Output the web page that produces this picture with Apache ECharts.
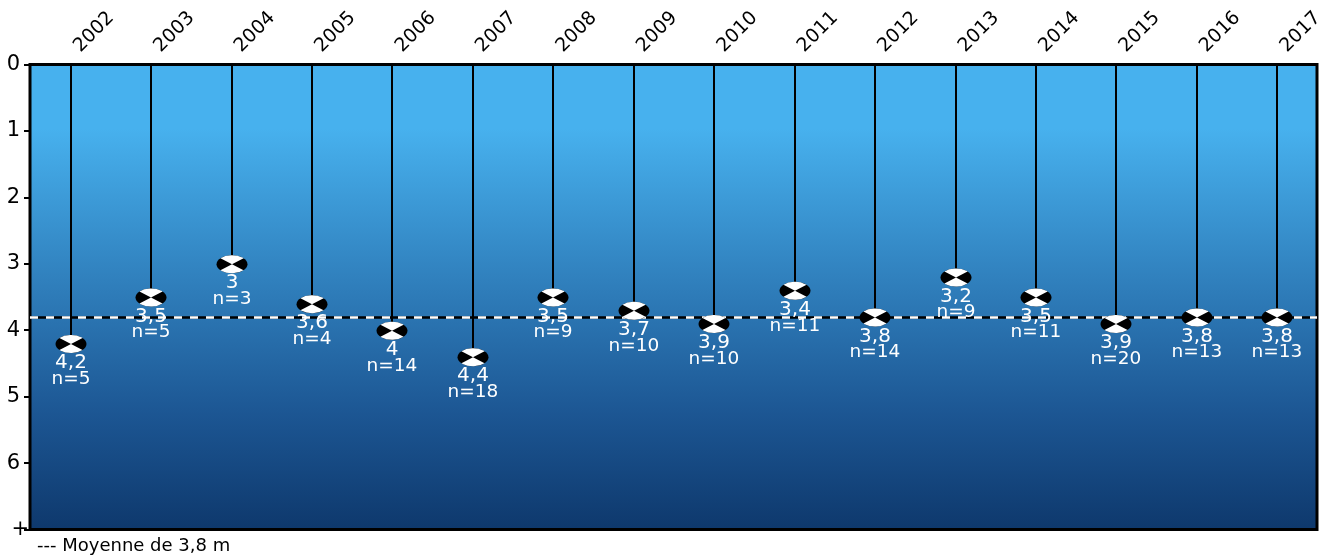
<!DOCTYPE html>
<html><head><meta charset="utf-8">
<style>html,body{margin:0;padding:0;background:#fff}#c{width:1327px;height:557px}</style>
<script src="https://cdn.jsdelivr.net/npm/echarts@6/dist/echarts.min.js"></script>
</head><body><div id="c"></div>
<script>
const years=['2002','2003','2004','2005','2006','2007','2008','2009','2010','2011','2012','2013','2014','2015','2016','2017'];
const depths=[4.2,3.5,3,3.6,4,4.4,3.5,3.7,3.9,3.4,3.8,3.2,3.5,3.9,3.8,3.8];
const counts=[5,5,3,4,14,18,9,10,10,11,14,9,11,20,13,13];
const meanDepth=3.8;
const FONT='"DejaVu Sans",Verdana,sans-serif';
const chart=echarts.init(document.getElementById('c'),null,{renderer:'canvas'});
function renderProbe(params,api){
  const x=api.value(0),v=api.value(1),n=api.value(2);
  const p=api.coord([x,v]),top=api.coord([x,0]);
  const rx=15.5,ry=9;
  const cx=Math.round(p[0]+0.5),cy=p[1]+0.5;
  const dx=rx*0.745,dy=ry*0.667;
  return {type:'group',children:[
    {type:'line',shape:{x1:cx,y1:top[1],x2:cx,y2:cy},style:{stroke:'#000',lineWidth:2}},
    {type:'ellipse',shape:{cx:cx,cy:cy,rx:rx,ry:ry},style:{fill:'#000'}},
    {type:'path',style:{fill:'#fff'},
     shape:{pathData:`M${cx} ${cy}L${cx-dx} ${cy-dy}A${rx} ${ry} 0 0 1 ${cx+dx} ${cy-dy}Z M${cx} ${cy}L${cx+dx} ${cy+dy}A${rx} ${ry} 0 0 1 ${cx-dx} ${cy+dy}Z`}},
    {type:'text',x:cx,y:cy+19,style:{text:String(v).replace('.',','),fill:'#fff',font:'20px '+FONT,align:'center',verticalAlign:'middle'}},
    {type:'text',x:cx,y:cy+35,style:{text:'n='+n,fill:'#fff',font:'18.5px '+FONT,align:'center',verticalAlign:'middle'}}
  ]};
}
chart.setOption({
  animation:false,
  grid:{left:30,right:10,top:64.5,bottom:27.5,outerBoundsMode:'none',show:true,borderColor:'#000',borderWidth:3,
    backgroundColor:new echarts.graphic.LinearGradient(0,0,0,1,[
      {offset:0,color:'#47b1ee'},{offset:0.14,color:'#47b1ee'},{offset:0.45,color:'#3182bf'},{offset:0.75,color:'#1c5693'},{offset:1,color:'#0e386c'}])},
  xAxis:{type:'category',position:'top',data:years,
    axisLine:{show:false},axisTick:{show:false},splitLine:{show:false},
    axisLabel:{rotate:45,align:'left',verticalAlign:'top',color:'#000',fontFamily:FONT,fontSize:19,margin:22,interval:0}},
  yAxis:{type:'value',inverse:true,min:0,max:7,interval:1,
    axisLine:{show:false},axisTick:{show:true,length:6,lineStyle:{color:'#000',width:2}},splitLine:{show:false},
    axisLabel:{color:'#000',fontFamily:FONT,fontSize:21,margin:1,
      formatter:v=>v===7?'+':'{d|'+v+'}',
      rich:{d:{fontFamily:FONT,fontSize:21,color:'#000',padding:[0,9,0,0]}}}},
  title:{text:'--- Moyenne de 3,8 m',left:37,top:537,padding:0,textStyle:{color:'#000',fontFamily:FONT,fontSize:18,fontWeight:'normal'}},
  series:[
    {type:'line',data:[],markLine:{silent:true,symbol:'none',label:{show:false},
      lineStyle:{color:'#000',width:2.5,type:'solid'},data:[{yAxis:meanDepth}],animation:false},z:2},
    {type:'line',data:[],markLine:{silent:true,symbol:'none',label:{show:false},
      lineStyle:{color:'#fff',width:2.5,type:[8,8]},data:[{yAxis:meanDepth}],animation:false},z:3},
    {type:'custom',z:5,clip:false,renderItem:renderProbe,encode:{x:0,y:1},
      data:years.map((y,i)=>[i,depths[i],counts[i]])}
  ]
});
</script></body></html>
